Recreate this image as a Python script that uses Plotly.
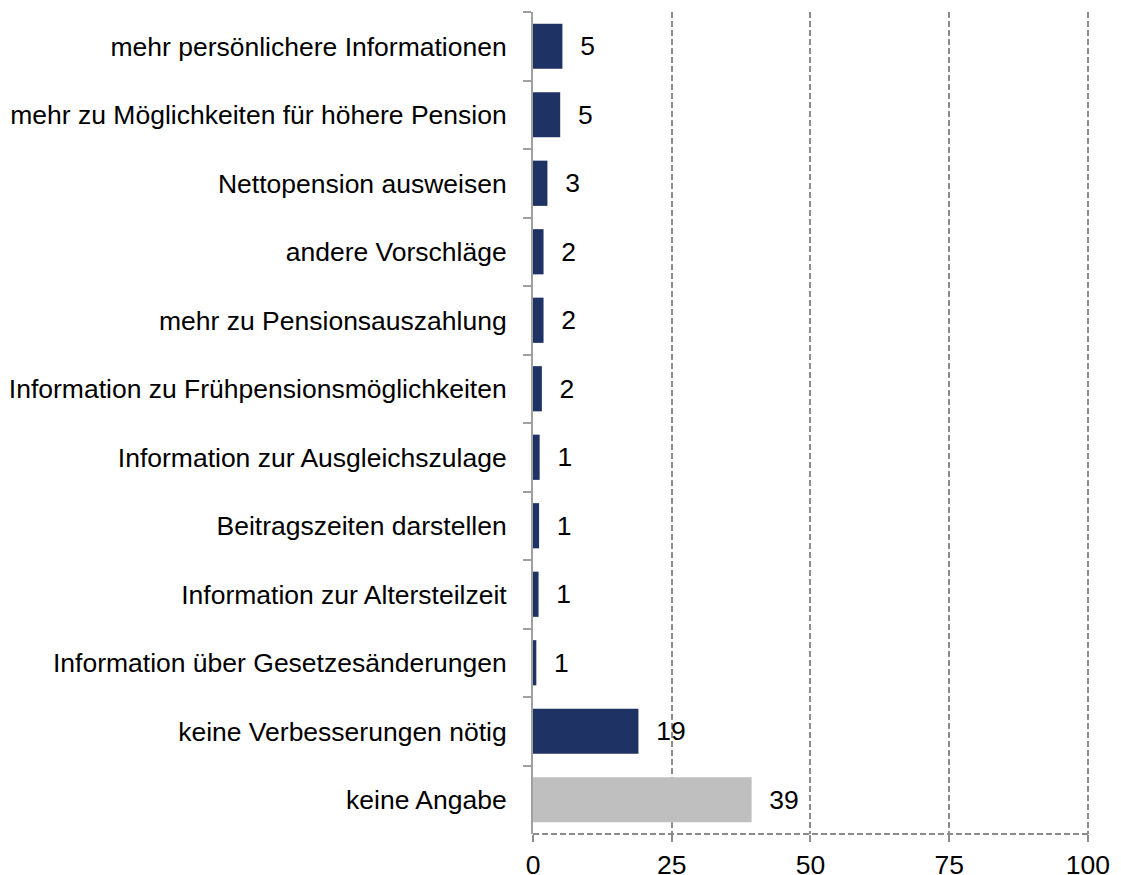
import plotly.graph_objects as go

categories = [
    "mehr persönlichere Informationen",
    "mehr zu Möglichkeiten für höhere Pension",
    "Nettopension ausweisen",
    "andere Vorschläge",
    "mehr zu Pensionsauszahlung",
    "Information zu Frühpensionsmöglichkeiten",
    "Information zur Ausgleichszulage",
    "Beitragszeiten darstellen",
    "Information zur Altersteilzeit",
    "Information über Gesetzesänderungen",
    "keine Verbesserungen nötig",
    "keine Angabe",
]
values = [5.3, 4.9, 2.6, 1.9, 1.9, 1.6, 1.2, 1.1, 1.0, 0.6, 19.0, 39.4]
labels = ["5", "5", "3", "2", "2", "2", "1", "1", "1", "1", "19", "39"]
bar_colors = ["#1F3264"] * 11 + ["#BFBFBF"]
x_ticks = [0, 25, 50, 75, 100]

FONT = "Arial, Liberation Sans, sans-serif"
FS = 26.5
GRID = "#8C8C8C"

fig = go.Figure()
fig.add_trace(go.Bar(
    y=categories,
    x=values,
    orientation="h",
    marker=dict(color=bar_colors, line=dict(width=0)),
    text=labels,
    texttemplate="\u00a0\u00a0%{text}",
    textposition="outside",
    textfont=dict(family=FONT, size=FS, color="#000000"),
    cliponaxis=False,
    width=0.66,
))

fig.add_shape(
    type="line", xref="x", yref="paper",
    x0=0, x1=100, y0=0, y1=0,
    line=dict(color=GRID, width=2, dash="6px,3px"),
    layer="above",
)

fig.update_layout(
    width=1113,
    height=867,
    margin=dict(l=525, r=32, t=4, b=41),
    paper_bgcolor="white",
    plot_bgcolor="white",
    showlegend=False,
    font=dict(family=FONT, size=FS, color="#000000"),
    xaxis=dict(
        range=[0, 100.2],
        tickvals=x_ticks,
        ticktext=[str(v) for v in x_ticks],
        showgrid=True,
        gridcolor=GRID,
        gridwidth=2,
        griddash="6px,3px",
        zeroline=False,
        showline=False,
        ticks="outside",
        ticklen=7,
        tickwidth=2,
        tickcolor=GRID,
        automargin=False,
        tickfont=dict(family=FONT, size=FS, color="#000000"),
    ),
    yaxis=dict(
        categoryorder="array",
        categoryarray=categories,
        autorange="reversed",
        showgrid=False,
        zeroline=False,
        showline=True,
        linecolor="#A0A0A0",
        linewidth=2,
        ticks="outside",
        tickson="boundaries",
        ticklen=8,
        tickwidth=2,
        tickcolor="#A0A0A0",
        ticklabelstandoff=19,
        automargin=False,
        tickfont=dict(family=FONT, size=FS, color="#000000"),
    ),
    bargap=0.34,
)

fig.write_html("out.html")
